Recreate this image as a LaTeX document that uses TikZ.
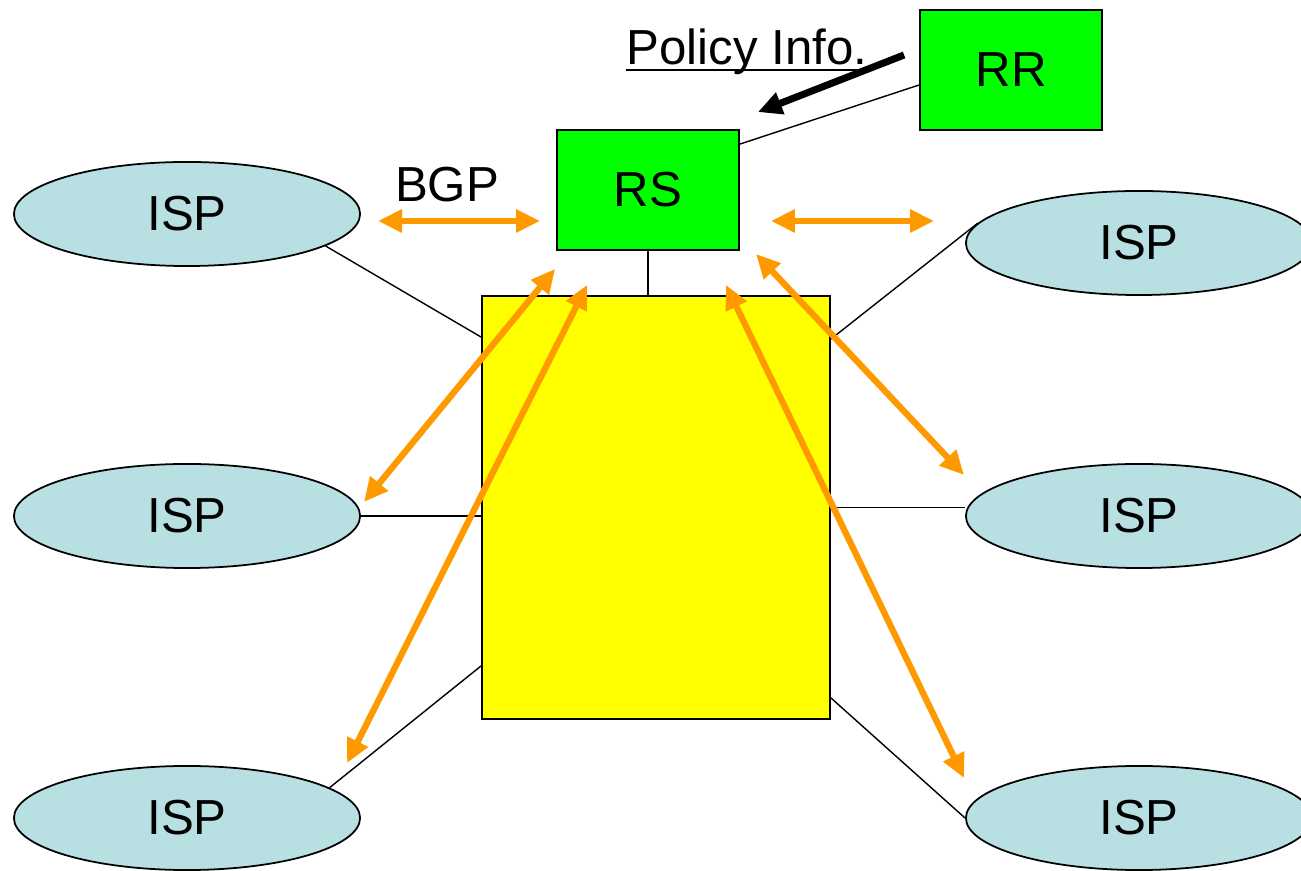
\documentclass[tikz,border=0pt]{standalone}
\usepackage{fontspec}
\setmainfont{Liberation Sans}
\usepackage{tikz}
\usetikzlibrary{shapes.geometric,arrows.meta}

\definecolor{ispblue}{RGB}{184,223,226}
\definecolor{bgporange}{RGB}{255,153,0}
\definecolor{hubyellow}{RGB}{255,255,0}
\definecolor{srvgreen}{RGB}{0,255,0}

\tikzset{
  isp/.style={ellipse, draw, line width=0.5pt, fill=ispblue, minimum width=3.46cm, minimum height=1.04cm, inner sep=0pt},
  server/.style={rectangle, draw, line width=0.5pt, fill=srvgreen, minimum width=1.82cm, minimum height=1.2cm, inner sep=0pt},
  link/.style={line width=0.4pt},
  bgp/.style={bgporange, line width=1.8pt, {Triangle[length=2.4mm,width=2.2mm]}-{Triangle[length=2.4mm,width=2.2mm]}},
}

\begin{document}
\begin{tikzpicture}[x=0.01cm, y=-0.01cm, font=\fontsize{14}{17}\selectfont]
        \useasboundingbox (0,0) rectangle (1301,871);                 %
        \node [rectangle, draw, line width=0.5pt, fill=hubyellow,
               minimum width=3.48cm, minimum height=4.23cm] (hub) at (656,507.5) {}; %exchange
        \node [server] (rs) at (648,190)  {RS};                        %route server
        \node [server] (rr) at (1011,70)  {RR};                        %registry
        \node [isp] (ispa) at (187,214)   {ISP};                       %left
        \node [isp] (ispb) at (187,516)   {ISP};                       %
        \node [isp] (ispc) at (187,818)   {ISP};                       %
        \node [isp] (ispd) at (1139,243)  {ISP};                       %right
        \node [isp] (ispe) at (1139,516)  {ISP};                       %
        \node [isp] (ispf) at (1139,818)  {ISP};                       %
        \node [anchor=base, inner sep=0pt] (bgplabel) at (447,202) {BGP};
        \node [anchor=base, inner sep=0pt] (policy) at (747,65) {Policy Info.};
        \draw [line width=0.5pt] ([yshift=-1.4pt]policy.base west) -- ([yshift=-1.4pt]policy.base east);
        % physical links
        \draw [link] (rs.south) -- (rs.south |- hub.north);            %
        \draw [link] ([yshift=-0.15cm]rr.west) -- ([yshift=-0.15cm]rs.north east);
        \draw [link] (ispa.-13) -- ([yshift=-0.42cm]hub.north west);   %
        \draw [link] (ispb.east) -- (ispb.east -| hub.west);           %
        \draw [link] (ispc.12) -- ([yshift=0.54cm]hub.south west);     %
        \draw [link] (ispd.173) -- ([yshift=-0.44cm]hub.north east);   %
        \draw [link] (hub.east) -- (hub.east -| ispe.west);            %
        \draw [link] (ispf.west) -- ([yshift=0.22cm]hub.south east);   %
        % BGP sessions
        \draw [bgp] ([shift={(17,7)}]ispa.east) -- ([shift={(-16,31)}]rs.west);
        \draw [bgp] ([shift={(31,31)}]rs.east) -- ([shift={(-31,-22)}]ispd.west);
        \draw [bgp] ([shift={(-1,18)}]rs.south west) -- ([shift={(3,-14)}]ispb.east);
        \draw [bgp] ([shift={(31,34)}]rs.south west) -- ([shift={(160,-2)}]ispc.north);
        \draw [bgp] ([shift={(16,3)}]rs.south east) -- ([shift={(-1,-41)}]ispe.west);
        \draw [bgp] ([shift={(-14,34)}]rs.south east) -- ([shift={(-1,-40)}]ispf.west);
        \draw [line width=2pt, -{Triangle[length=2.4mm,width=2.2mm]}]
              ([shift={(-15,-15)}]rr.west) -- ([shift={(18,-17)}]rs.north east); %policy
\end{tikzpicture}
\end{document}
